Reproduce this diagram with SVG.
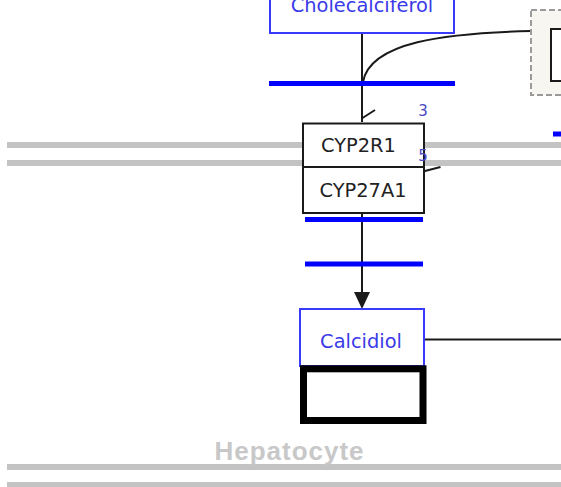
<svg xmlns="http://www.w3.org/2000/svg" width="561" height="487" viewBox="0 0 561 487">
  <style>
    .membrane { stroke: #c3c3c3; stroke-width: 6; fill: none; }
    .bar { stroke: #0000ff; stroke-width: 5; fill: none; }
    .edge { stroke: #1a1a1a; stroke-width: 2; fill: none; }
    .metab { fill: #ffffff; stroke: #3a3aff; stroke-width: 2; }
    .metab-label { font-family: "DejaVu Sans", Verdana, sans-serif; font-size: 19.4px; fill: #3a3ae8; text-anchor: middle; }
    .gene { fill: #ffffff; stroke: #1a1a1a; stroke-width: 2; }
    .gene-label { font-family: "DejaVu Sans", Verdana, sans-serif; font-size: 19.4px; fill: #222222; text-anchor: middle; }
    .site { font-family: "DejaVu Sans", Verdana, sans-serif; font-size: 15px; fill: #4a4ac0; text-anchor: middle; }
    .compartment { font-family: "Liberation Sans", Arial, sans-serif; font-weight: bold; font-size: 26px; fill: #c8c8c8; text-anchor: middle; }
  </style>

  <rect width="561" height="487" fill="#ffffff"/>

  <!-- cell membranes -->
  <g id="membranes">
    <line class="membrane" x1="7" y1="145" x2="561" y2="145"/>
    <line class="membrane" x1="7" y1="163" x2="561" y2="163"/>
    <line class="membrane" x1="7" y1="467" x2="561" y2="467"/>
    <line class="membrane" x1="7" y1="485" x2="561" y2="485"/>
  </g>

  <!-- connectors -->
  <g id="connectors">
    <line class="edge" x1="362" y1="33" x2="362" y2="122"/>
    <path class="edge" d="M531,31 C445,33 370,42 363,82"/>
    <line class="edge" x1="362.5" y1="118" x2="375" y2="110"/>
    <line class="edge" x1="423" y1="171.5" x2="440.5" y2="167"/>
    <line class="edge" x1="362" y1="214" x2="362" y2="292"/>
    <path d="M354,292 L370,292 L362,309 Z" fill="#1a1a1a"/>
    <line class="edge" x1="424" y1="339.5" x2="561" y2="339.5"/>
  </g>

  <!-- reaction bars -->
  <g id="bars">
    <line class="bar" x1="269" y1="83.5" x2="455" y2="83.5"/>
    <line class="bar" x1="305" y1="219.5" x2="423" y2="219.5"/>
    <line class="bar" x1="305" y1="264" x2="423" y2="264"/>
    <line class="bar" x1="553" y1="134" x2="561" y2="134"/>
  </g>

  <!-- pathway group box on the right -->
  <g id="group-right">
    <rect x="531" y="10" width="40" height="85" fill="#f7f6f0" stroke="#9a9a9a" stroke-width="2" stroke-dasharray="6,3"/>
    <rect x="551" y="29" width="20" height="52" fill="#ffffff" stroke="#1a1a1a" stroke-width="2"/>
  </g>

  <g id="cholecalciferol">
    <rect class="metab" x="270" y="-20" width="184" height="53"/>
    <text class="metab-label" x="362" y="12">Cholecalciferol</text>
  </g>

  <g id="cyp2r1">
    <rect class="gene" x="303" y="123.5" width="121" height="43.5"/>
    <text class="gene-label" x="358.5" y="151.5">CYP2R1</text>
    <text class="site" x="423" y="116">3</text>
  </g>

  <g id="cyp27a1">
    <rect class="gene" x="303" y="167" width="121" height="46"/>
    <text class="gene-label" x="363" y="196.5">CYP27A1</text>
    <text class="site" x="423" y="161">5</text>
  </g>

  <g id="calcidiol">
    <rect class="metab" x="300" y="309" width="124" height="57" stroke-width="1.6"/>
    <text class="metab-label" x="361" y="348">Calcidiol</text>
  </g>

  <g id="empty-node">
    <rect x="303.5" y="368.8" width="119.5" height="51.7" fill="#ffffff" stroke="#000000" stroke-width="7"/>
  </g>

  <g id="compartment-label">
    <text class="compartment" x="289" y="460" textLength="149" lengthAdjust="spacing">Hepatocyte</text>
  </g>
</svg>
